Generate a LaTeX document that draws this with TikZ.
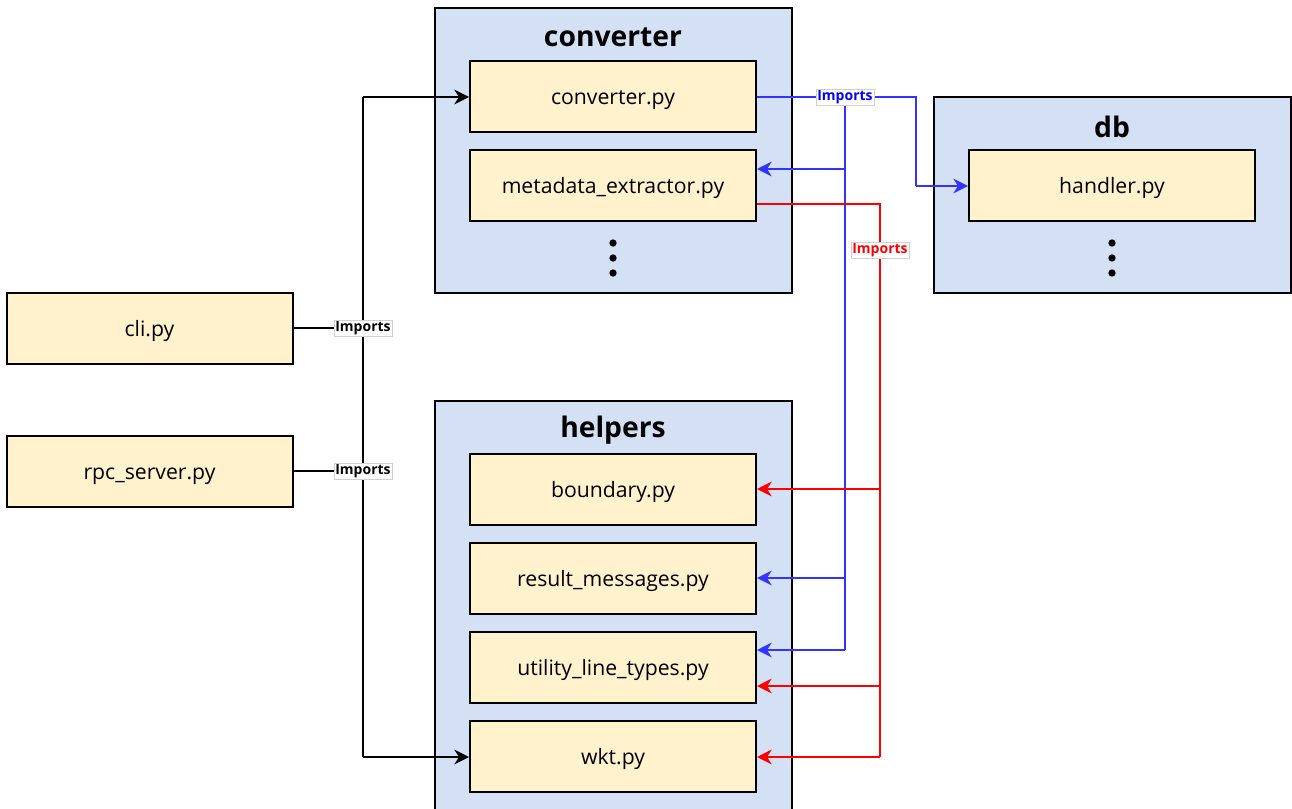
\documentclass[tikz,border=0pt]{standalone}
\usepackage{fontspec}
\setmainfont{Open Sans}
\usetikzlibrary{arrows.meta}
\definecolor{contfill}{HTML}{D4E1F5}
\definecolor{filefill}{HTML}{FFF2CC}
\definecolor{bluec}{HTML}{3333FF}
\definecolor{bluet}{HTML}{0000FF}
\definecolor{redc}{HTML}{FF0000}
\definecolor{lblborder}{HTML}{D0D0D0}
\begin{document}
\begin{tikzpicture}[x=0.75pt,y=-0.75pt,
  container/.style={draw=black,fill=contfill,line width=1.5pt,inner sep=0pt},
  filebox/.style={draw=black,fill=filefill,line width=1.5pt,minimum width=214.5pt,minimum height=53.25pt,inner sep=0pt,text height=13pt,text depth=1.5pt,font=\fontsize{15.9}{18}\selectfont},
  title/.style={font=\fontsize{21.2}{24}\bfseries\selectfont,inner sep=0pt},
  conn/.style={line width=1.5pt},
  tip/.style={-{Stealth[length=11pt,width=11pt,inset=3.5pt]}},
  lbl/.style={fill=white,draw=lblborder,line width=0.5pt,inner sep=1pt,font=\fontsize{10.5}{12}\bfseries\selectfont},
  dot/.style={circle,fill=black,inner sep=0pt,minimum size=5.5pt}]
\useasboundingbox (0,0) rectangle (1292,809);
\fill[white] (0,0) rectangle (1292,809);
% containers
\node[container,minimum width=267.75pt,minimum height=213.75pt] (convbox) at (613.5,150.5) {};
\node[container,minimum width=267.75pt,minimum height=147pt] (dbbox) at (1112.5,195) {};
\node[container,minimum width=267.75pt,minimum height=315pt] (helpbox) at (613.5,611) {};
\node[title] (convtitle) at (613,37) {converter};
\node[title] (dbtitle) at (1112,127) {db};
\node[title] (helptitle) at (613,430) {helpers};
% files
\node[filebox] (conv) at (613,97) {converter.py};
\node[filebox] (meta) at (613,186) {metadata\_extractor.py};
\node[filebox] (handler) at (1112,186) {handler.py};
\node[filebox] (cli) at (149.5,328.5) {cli.py};
\node[filebox] (rpc) at (149.5,471.5) {rpc\_server.py};
\node[filebox] (bound) at (613,489.5) {boundary.py};
\node[filebox] (result) at (613,578.5) {result\_messages.py};
\node[filebox] (util) at (613,667.5) {utility\_line\_types.py};
\node[filebox] (wkt) at (613,756.5) {wkt.py};
% dots
\foreach \y [count=\i] in {243,258,273} {
  \node[dot] (cd\i) at (613,\y) {};
  \node[dot] (dd\i) at (1112,\y) {};
}
% coordinates
\coordinate (bt) at (363,97);
\coordinate (bb) at (363,757);
\coordinate (bcli) at (363,328);
\coordinate (brpc) at (363,471);
\coordinate (ulab) at (845,97);
\coordinate (ub) at (845,650);
\coordinate (uturn1) at (916,97);
\coordinate (uturn2) at (916,186);
\coordinate (rtop) at (880,204);
\coordinate (rb) at (880,757);
% black connectors
\draw[conn] (cli.east |- bcli) -- (bcli);
\draw[conn] (rpc.east |- brpc) -- (brpc);
\draw[conn] (bt) -- (bb);
\draw[conn,tip] (bt) -- (conv.west |- bt);
\draw[conn,tip] (bb) -- (wkt.west |- bb);
% blue connectors
\draw[conn,bluec] (conv.east |- uturn1) -- (uturn1) -- (uturn2);
\draw[conn,bluec,tip] (uturn2) -- (handler.west |- uturn2);
\draw[conn,bluec] (ulab) -- (ub);
\draw[conn,bluec,tip] (845,169) -- (meta.east |- 845,169);
\draw[conn,bluec,tip] (845,578) -- (result.east |- 845,578);
\draw[conn,bluec,tip] (ub) -- (util.east |- ub);
% red connectors
\draw[conn,redc] (meta.east |- rtop) -- (rtop) -- (rb);
\draw[conn,redc,tip] (880,489) -- (bound.east |- 880,489);
\draw[conn,redc,tip] (880,686) -- (util.east |- 880,686);
\draw[conn,redc,tip] (rb) -- (wkt.east |- rb);
% labels
\node[lbl] (lcli) at (bcli) {Imports};
\node[lbl] (lrpc) at (brpc) {Imports};
\node[lbl,text=bluet] (lblue) at (ulab) {Imports};
\node[lbl,text=redc] (lred) at (880,250) {Imports};
\end{tikzpicture}
\end{document}
